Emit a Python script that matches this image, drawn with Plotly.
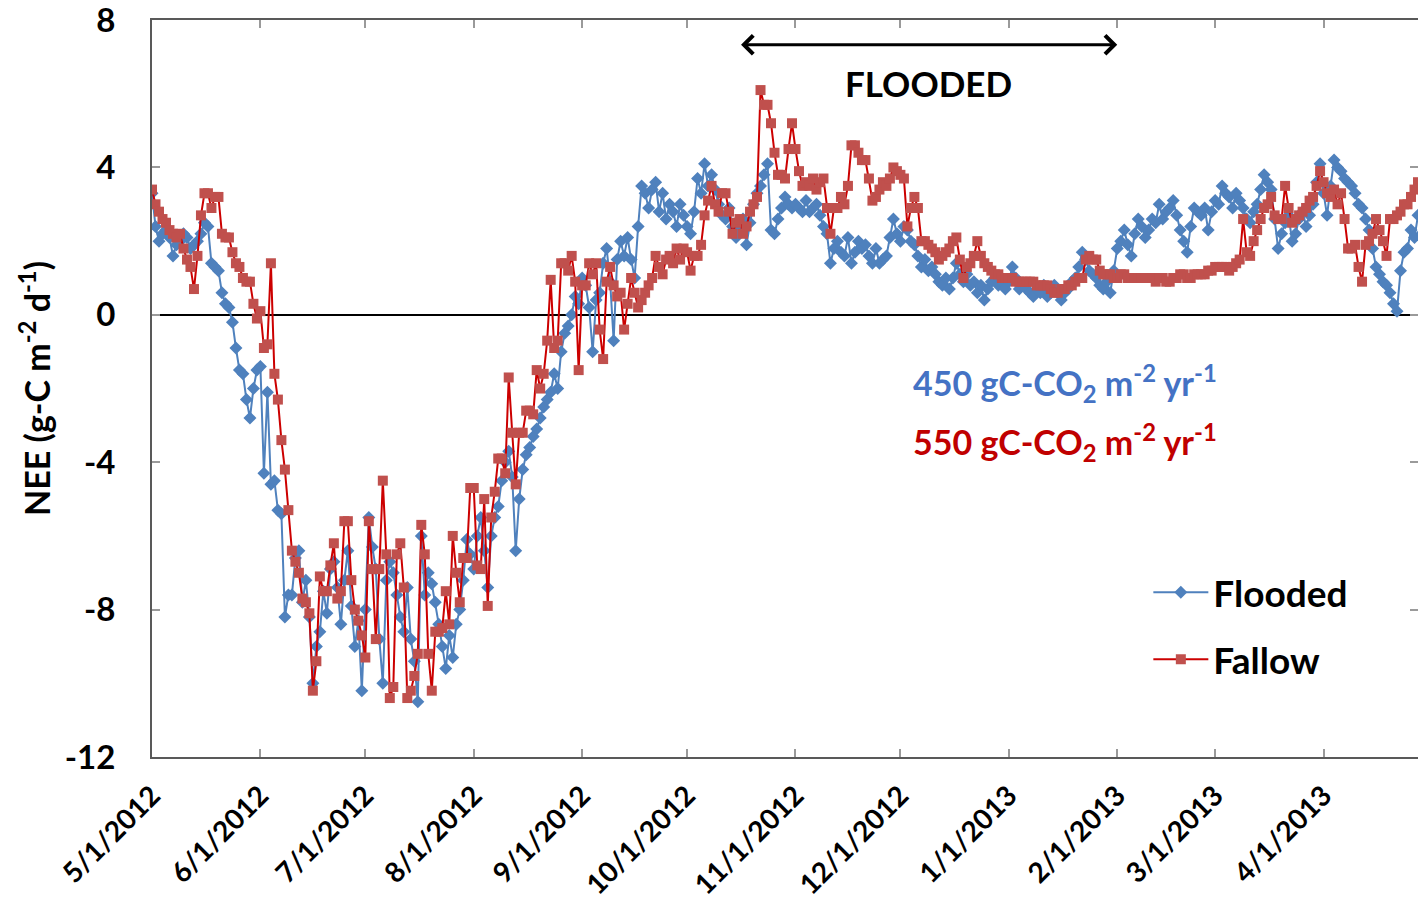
import pandas as pd
import plotly.graph_objects as go

# ---- daily data from 5/1/2012, NEE g-C m-2 d-1 (one row per month) ----
start_date = "2012-05-01"
flooded = [
    # May
    3.3, 2.4, 2.0, 2.2, 2.3, 2.1, 1.6, 1.9, 2.0, 2.2, 2.1, 1.8, 1.9, 2.0, 2.2, 2.5,
    2.4, 1.4, 1.3, 1.2, 0.6, 0.3, 0.2, -0.2, -0.9, -1.5, -1.6, -2.3, -2.8, -2.0, -1.5,
    # Jun
    -1.4, -4.3, -2.1, -4.6, -4.5, -5.3, -5.4, -8.2, -7.6, -7.6, -6.6, -6.4, -7.8, -7.2, -8.2,
    -10.0, -9.0, -8.6, -7.5, -8.1, -6.9, -6.7, -7.4, -8.4, -7.2, -6.4, -7.9, -9.0, -8.3, -10.2,
    # Jul
    -8.0, -5.5, -6.3, -6.9, -8.8, -10.0, -7.2, -6.7, -7.0, -7.6, -8.2, -8.6, -7.4, -8.8, -9.4, -10.5,
    -6.0, -7.6, -7.0, -7.3, -7.8, -8.4, -9.0, -9.6, -8.7, -9.3, -8.4, -8.0, -7.2, -6.1, -6.5,
    # Aug
    -6.9, -6.0, -5.5, -6.4, -7.4, -6.0, -5.5, -5.2, -4.5, -4.0, -3.7, -4.4, -6.4, -5.0, -4.2, -3.8,
    -3.6, -3.3, -3.1, -2.8, -2.5, -2.3, -2.1, -1.6, -2.0, -1.0, -0.5, -0.3, 0.0, 0.5, 0.3,
    # Sep
    1.0, 0.8, 0.2, -1.0, 0.4, 0.6, 1.4, 1.8, 0.9, -0.7, 1.5, 2.0, 1.6, 2.1, 1.5,
    1.0, 2.4, 3.5, 3.3, 2.9, 3.4, 3.6, 2.8, 3.3, 2.6, 3.0, 2.8, 2.4, 3.0, 2.7,
    # Oct
    2.4, 2.2, 2.8, 3.7, 3.3, 4.1, 3.5, 3.8, 3.4, 3.0, 2.7, 2.6, 2.9, 2.4, 2.1, 2.3,
    2.6, 1.9, 2.5, 3.0, 3.3, 3.5, 3.8, 4.1, 2.3, 2.2, 2.6, 2.9, 3.2, 3.0, 2.9,
    # Nov
    3.0, 2.9, 2.8, 3.1, 2.8, 2.9, 3.0, 2.7, 2.4, 2.2, 1.4, 1.8, 2.0, 1.7, 1.6,
    2.1, 1.4, 1.7, 2.0, 1.8, 1.9, 1.6, 1.4, 1.8, 1.4, 1.5, 1.6, 2.1, 2.6, 2.2,
    # Dec
    2.0, 2.4, 2.3, 2.0, 1.9, 1.6, 1.3, 1.5, 1.2, 1.3, 1.1, 0.9, 0.8, 1.0, 0.7, 1.0,
    1.4, 1.1, 0.9, 1.1, 0.8, 0.9, 0.6, 0.8, 0.4, 0.7, 0.9, 1.0, 0.8, 0.9, 0.7,
    # Jan
    0.9, 1.3, 1.0, 0.7, 0.8, 0.7, 0.6, 0.5, 0.7, 0.6, 0.8, 0.5, 0.6, 0.8, 0.6, 0.4,
    0.6, 0.7, 0.9, 1.0, 1.3, 1.7, 1.5, 1.2, 1.1, 1.0, 0.8, 0.7, 0.9, 0.6, 1.2,
    # Feb
    1.8, 2.0, 2.3, 1.9, 1.6, 2.2, 2.6, 2.4, 2.1, 2.3, 2.6, 2.5, 3.0, 2.6,
    2.8, 2.9, 3.1, 2.7, 2.3, 2.0, 1.7, 2.4, 2.9, 2.8, 2.7, 2.9, 2.3, 2.8,
    # Mar
    3.1, 3.0, 3.5, 3.3, 3.2, 2.9, 3.3, 3.1, 2.9, 2.6, 2.5, 2.8, 3.0, 3.4, 3.8, 3.6,
    3.4, 2.6, 1.8, 2.2, 2.5, 2.7, 2.0, 2.2, 2.6, 2.8, 2.4, 2.7, 3.0, 3.6, 4.1,
    # Apr
    3.3, 2.7, 3.5, 4.2, 4.0, 3.9, 3.7, 3.6, 3.5, 3.3, 3.0, 2.9, 2.6, 2.3, 1.8,
    1.3, 1.1, 0.9, 0.8, 0.6, 0.3, 0.1, 1.2, 1.7, 1.8, 2.3, 2.1, 2.7, 2.2, 1.6,
]
fallow = [
    # May
    3.4, 3.0, 2.8, 2.6, 2.5, 2.3, 2.2, 2.1, 2.2, 1.8, 1.5, 1.3, 0.7, 1.6, 2.7, 3.3,
    3.3, 2.9, 3.2, 3.2, 2.2, 2.1, 2.1, 1.7, 1.4, 1.3, 1.0, 0.9, 0.9, 0.3, -0.1,
    # Jun
    0.1, -0.9, -0.8, 1.4, -1.6, -2.3, -3.4, -4.2, -5.3, -6.4, -6.7, -7.0, -7.7, -7.8, -8.1,
    -10.2, -9.4, -7.1, -7.5, -7.5, -6.8, -6.2, -7.7, -7.5, -5.6, -5.6, -7.2, -8.0, -8.3, -8.7,
    # Jul
    -9.3, -5.6, -6.9, -8.8, -6.9, -4.5, -6.5, -10.4, -10.1, -6.5, -6.2, -7.4, -10.4, -10.2, -9.8, -9.2,
    -5.7, -6.5, -9.2, -10.2, -8.6, -8.6, -8.5, -7.5, -8.4, -6.0, -7.0, -7.8, -6.6, -6.6, -4.7,
    # Aug
    -4.7, -6.8, -6.9, -5.0, -7.9, -5.5, -4.8, -3.9, -3.9, -4.3, -1.7, -3.2, -4.6, -3.2, -3.2, -2.6,
    -2.6, -2.7, -1.5, -2.0, -1.6, -0.7, 0.95, -0.9, -0.7, 1.4, 1.4, 1.2, 1.6, 0.9, -1.5,
    # Sep
    0.8, 0.8, 1.4, 1.1, 1.4, -0.4, -1.2, 0.9, 1.3, 0.8, 0.5, 0.6, -0.4, 0.3, 1.0,
    0.6, 0.2, 0.4, 0.6, 0.8, 1.0, 1.6, 1.3, 1.1, 1.5, 1.6, 1.4, 1.8, 1.5, 1.8,
    # Oct
    1.7, 1.2, 1.6, 1.6, 1.9, 2.7, 3.1, 3.5, 3.0, 2.8, 3.3, 3.3, 2.8, 2.2, 2.5, 2.6,
    2.2, 2.4, 2.8, 3.0, 3.2, 6.1, 5.7, 5.7, 5.2, 4.4, 3.8, 3.8, 3.7, 4.5, 5.2,
    # Nov
    4.5, 3.9, 3.5, 3.6, 3.5, 3.7, 3.4, 3.6, 3.7, 2.9, 2.2, 2.9, 2.9, 3.2, 3.0,
    3.5, 4.6, 4.6, 4.4, 4.2, 4.2, 3.7, 3.1, 3.2, 3.4, 3.6, 3.5, 3.7, 4.0, 3.9,
    # Dec
    3.8, 3.7, 2.4, 2.9, 3.2, 2.9, 2.0, 2.0, 1.9, 1.8, 1.7, 1.5, 1.6, 1.7, 1.8, 2.0,
    2.1, 1.5, 1.0, 1.3, 1.4, 1.6, 2.0, 1.6, 1.4, 1.3, 1.2, 1.1, 1.1, 1.0, 1.0,
    # Jan
    1.0, 1.0, 0.9, 0.9, 0.9, 0.9, 0.9, 0.9, 0.8, 0.8, 0.8, 0.8, 0.7, 0.6, 0.6, 0.7,
    0.7, 0.8, 0.8, 0.9, 1.0, 1.0, 1.5, 1.6, 1.5, 1.5, 1.2, 1.1, 1.1, 1.1, 1.0,
    # Feb
    1.0, 1.1, 1.1, 1.0, 1.0, 1.0, 1.0, 1.0, 1.0, 1.0, 1.0, 0.9, 1.0, 1.0,
    0.9, 0.9, 1.0, 1.0, 1.1, 1.1, 1.0, 1.0, 1.1, 1.1, 1.1, 1.1, 1.2, 1.2,
    # Mar
    1.3, 1.3, 1.3, 1.3, 1.2, 1.3, 1.4, 1.5, 2.6, 1.7, 1.6, 2.0, 2.3, 2.6, 2.9, 3.0,
    3.2, 2.7, 2.6, 2.6, 3.5, 2.9, 2.5, 2.6, 2.7, 2.8, 2.9, 3.1, 3.2, 3.5, 3.9,
    # Apr
    3.6, 3.3, 3.2, 3.4, 3.0, 3.3, 2.6, 1.8, 1.8, 1.9, 1.3, 0.9, 1.9, 2.0, 2.2,
    2.6, 2.3, 2.0, 1.6, 2.6, 2.6, 2.7, 2.8, 3.0, 3.0, 3.2, 3.4, 3.6, 3.5, 3.7,
]
dates = pd.date_range(start_date, periods=len(flooded), freq="D")

tick_dates = ["2012-05-01", "2012-06-01", "2012-07-01", "2012-08-01", "2012-09-01",
              "2012-10-01", "2012-11-01", "2012-12-01", "2013-01-01", "2013-02-01",
              "2013-03-01", "2013-04-01"]
tick_labels = ["5/1/2012", "6/1/2012", "7/1/2012", "8/1/2012", "9/1/2012", "10/1/2012",
               "11/1/2012", "12/1/2012", "1/1/2013", "2/1/2013", "3/1/2013", "4/1/2013"]
y_ticks = [-12, -8, -4, 0, 4, 8]
y_labels = ["-12", "-8", "-4", "0", "4", "8"]

flooded_period = ["2012-10-16", "2013-02-01"]
annual_flooded = "450 gC-CO<sub>2</sub> m<sup>-2</sup> yr<sup>-1</sup>"
annual_fallow = "550 gC-CO<sub>2</sub> m<sup>-2</sup> yr<sup>-1</sup>"

FONT = "Lato"
BLUE = "#4F81BD"
RED_M = "#C0504D"
RED_L = "#CC0000"

fig = go.Figure()
fig.add_trace(go.Scatter(
    x=dates, y=flooded, name="Flooded", mode="lines+markers",
    line=dict(color=BLUE, width=2),
    marker=dict(symbol="diamond", size=10, color=BLUE),
    legendgroup="a",
))
fig.add_trace(go.Scatter(
    x=dates, y=fallow, name="Fallow", mode="lines+markers",
    line=dict(color=RED_L, width=2),
    marker=dict(symbol="square", size=10, color=RED_M),
    legendgroup="b",
))

axis_common = dict(
    showline=True, linecolor="#595959", linewidth=2, mirror="ticks",
    ticks="inside", ticklen=8, tickwidth=1.5, tickcolor="#9a9a9a",
    showgrid=False, automargin=False,
)
fig.update_xaxes(
    type="date", range=["2012-05-01", "2013-04-28"],
    tickmode="array", tickvals=tick_dates, ticktext=tick_labels,
    tickangle=-45, ticklabelstandoff=9,
    tickfont=dict(family=FONT, size=28, color="black", weight="bold"),
    zeroline=False, **axis_common,
)
fig.update_yaxes(
    range=[-12, 8.002], tickmode="array", tickvals=y_ticks, ticktext=y_labels,
    ticklabelstandoff=28, ticklabeloverflow="allow",
    tickfont=dict(family=FONT, size=33, color="black", weight="bold"),
    zeroline=True, zerolinecolor="black", zerolinewidth=2,
    title=dict(text="NEE (g-C m<sup>-2</sup> d<sup>-1</sup>)",
               font=dict(family=FONT, size=34, color="black", weight="bold"),
               standoff=4),
    **axis_common,
)

fig.add_annotation(
    x=flooded_period[1], y=7.33, ax=flooded_period[0], ay=7.33,
    xref="x", yref="y", axref="x", ayref="y", text="",
    showarrow=True, arrowhead=4, startarrowhead=4, arrowside="end+start",
    arrowsize=1.2, startarrowsize=1.2, arrowwidth=3, arrowcolor="black",
)
fig.add_annotation(
    x="2012-12-09", y=6.3, xref="x", yref="y", text="FLOODED", showarrow=False,
    font=dict(family=FONT, size=35, color="black", weight="bold"),
)
fig.add_annotation(
    x="2012-12-04", y=-1.85, xref="x", yref="y", xanchor="left", text=annual_flooded,
    showarrow=False, font=dict(family=FONT, size=34, color="#4472C4", weight="bold"),
)
fig.add_annotation(
    x="2012-12-04", y=-3.46, xref="x", yref="y", xanchor="left", text=annual_fallow,
    showarrow=False, font=dict(family=FONT, size=34, color="#C00000", weight="bold"),
)

fig.update_layout(
    width=1418, height=902,
    margin=dict(l=152, r=0, t=20, b=145),
    paper_bgcolor="white", plot_bgcolor="white",
    showlegend=True,
    legend=dict(
        x=0.787, y=0.265, xanchor="left", yanchor="top",
        font=dict(family=FONT, size=37, color="black", weight="bold"),
        bgcolor="rgba(0,0,0,0)", itemwidth=55, tracegroupgap=16,
        traceorder="grouped",
    ),
)

fig.write_html("out.html")
